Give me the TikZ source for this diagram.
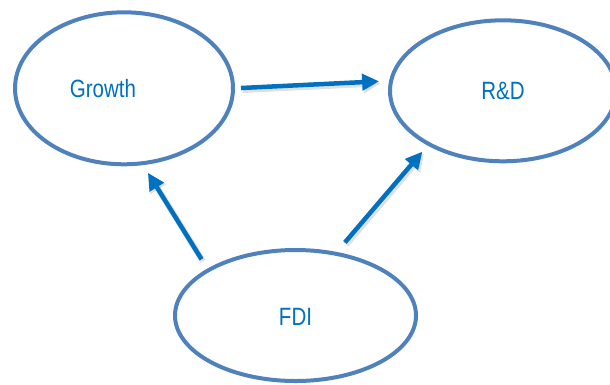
\documentclass[tikz,border=0pt]{standalone}
\usepackage{fontspec}
\setmainfont{Liberation Sans}[FakeStretch=0.82]
\usetikzlibrary{shapes.geometric,arrows.meta}
\definecolor{ringblue}{RGB}{79,129,189}
\definecolor{arrowblue}{RGB}{0,112,192}
\tikzset{
  oval/.style={ellipse, draw=ringblue, line width=4pt, inner sep=0pt, fill=white},
  lbl/.style={text=arrowblue, font=\fontsize{25pt}{28pt}\selectfont},
  link/.style={draw=arrowblue, line width=4.5pt,
    -{Triangle[length=17pt,width=16pt]},
    preaction={draw=black, opacity=0.12, line width=6pt,
      transform canvas={shift={(1.5pt,-2pt)}}, -{Triangle[length=17pt,width=18pt]}}}
}
\begin{document}
\begin{tikzpicture}[x=1pt,y=-1pt]
\useasboundingbox (0,0) rectangle (610,384);
\node[oval, minimum width=218pt, minimum height=152pt,
      label={[lbl, xshift=-21pt]center:Growth}] (g) at (124,88.3) {};
\node[oval, minimum width=226pt, minimum height=141pt,
      label={[lbl]center:R\&D}] (r) at (503,90.8) {};
\node[oval, minimum width=241pt, minimum height=131pt,
      label={[lbl, yshift=-1pt]center:FDI}] (f) at (295.5,315.5) {};
\draw[link, shorten <=6pt, shorten >=10pt] (g.0) -- (r.175);
\draw[link, shorten <=11pt, shorten >=9pt] (f.152) -- (g.-76);
\draw[link, shorten <=12.5pt, shorten >=8pt] (f.57.6) -- (r.-144.3);
\end{tikzpicture}
\end{document}
